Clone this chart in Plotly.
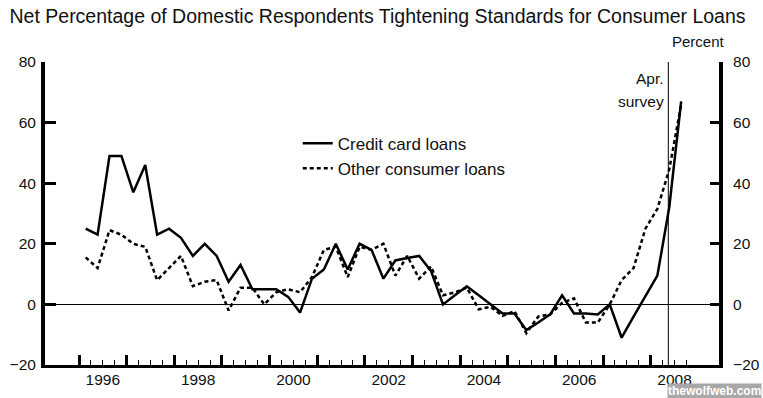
import plotly.graph_objects as go

# ---- data ----
credit_card = [25, 23, 49, 49, 37, 46, 23, 25, 22, 16,
               20, 16, 7.5, 13, 5, 5, 5, 2.5, -2.7, 8.5,
               11.5, 20, 11.5, 20, 18, 8.5, 14.5, 15.3, 16, 11,
               0, 3, 6, 3, 0, -3, -3, -8.5, -6, -3.3,
               3, -3, -3, -3.3, 0, -11, -4, 3, 9.5, 32, 67]
other_consumer = [15.5, 12, 24.5, 23, 20, 19, 8, 12, 16, 6,
                  7.5, 8, -2, 5.5, 5.5, 0, 4, 5, 4, 9,
                  18, 19, 9, 19, 18, 20, 9.5, 16, 8.5, 12.5,
                  3, 4, 5.5, -1.6, -0.8, -3.8, -2.2, -9.5, -4, -3.3,
                  0.5, 2, -6, -6, 0, 8, 12, 25, 31.5, 44.5, 66]
first_survey = 1996.14          # first survey date (decimal year)
survey_step = 0.25              # quarterly surveys
survey_line = 2008.37           # "Apr. survey" marker

year_ticks = list(range(1996, 2009))
quarter_ticks = [y + q for y in year_ticks for q in (0.25, 0.5, 0.75)]
label_years = [1996, 1998, 2000, 2002, 2004, 2006, 2008]
y_ticks = [-20, 0, 20, 40, 60, 80]

x_vals = [first_survey + survey_step * i for i in range(len(credit_card))]
x_range = [1995.286, 2009.434]
y_range = [-20, 80]

FONT = "Arial, Liberation Sans, sans-serif"
INK = "#111111"
TICKFONT = dict(size=15.5, family=FONT, color=INK)

fig = go.Figure()
fig.add_trace(go.Scatter(x=x_vals, y=credit_card, mode="lines",
                         name="Credit card loans",
                         line=dict(color="black", width=2.5)))
fig.add_trace(go.Scatter(x=x_vals, y=other_consumer, mode="lines",
                         name="Other consumer loans",
                         line=dict(color="black", width=2.5, dash="4px,3px")))

# invisible carriers so the overlay axes (labels, right axis, top caps) get drawn
for xa, ya in (("x2", "y"), ("x", "y2"), ("x", "y3"), ("x", "y4")):
    fig.add_trace(go.Scatter(x=x_vals, y=credit_card, mode="lines",
                             xaxis=xa, yaxis=ya, showlegend=False,
                             hoverinfo="skip", opacity=0,
                             line=dict(width=0, color="rgba(0,0,0,0)")))

fig.add_vline(x=survey_line, line=dict(color="black", width=1))

fig.update_layout(
    width=763, height=398,
    margin=dict(l=45, r=44, t=62, b=33, autoexpand=False),
    paper_bgcolor="white", plot_bgcolor="white",
    font=dict(family=FONT, color=INK, size=15),
    title=dict(text="Net Percentage of Domestic Respondents Tightening Standards for Consumer Loans",
               x=0.4948, xref="container", xanchor="center",
               y=1 - 16 / 398, yref="container", yanchor="middle",
               font=dict(size=19.5, family=FONT, color=INK)),
    showlegend=True,
    legend=dict(x=0.375, y=0.79, xref="paper", yref="paper",
                xanchor="left", yanchor="top",
                bgcolor="rgba(0,0,0,0)", borderwidth=0,
                font=dict(size=17, family=FONT, color=INK),
                tracegroupgap=0),
    xaxis=dict(range=x_range, tickmode="array", tickvals=year_ticks,
               ticks="inside", ticklen=10, tickwidth=3, tickcolor="black",
               showticklabels=False, showline=True, linewidth=3,
               linecolor="black", showgrid=False, zeroline=False,
               automargin=False,
               minor=dict(tickmode="array", tickvals=quarter_ticks,
                          ticks="inside", ticklen=5, tickwidth=1,
                          tickcolor="black", showgrid=False)),
    xaxis2=dict(range=x_range, overlaying="x", anchor="y", side="bottom",
                tickmode="array", tickvals=[y + 0.5 for y in label_years],
                ticktext=[str(y) for y in label_years],
                ticks="", showline=False, showgrid=False, zeroline=False,
                automargin=False, ticklabelstandoff=3, tickfont=TICKFONT),
    yaxis=dict(range=y_range, tickmode="array", tickvals=y_ticks,
               ticks="inside", ticklen=11, tickwidth=3, tickcolor="black",
               showline=True, linewidth=4, linecolor="black",
               showgrid=False, zeroline=True, zerolinewidth=1,
               zerolinecolor="black", automargin=False,
               ticklabelstandoff=2, tickfont=TICKFONT),
    yaxis2=dict(range=y_range, overlaying="y", anchor="x", side="right",
                tickmode="array", tickvals=y_ticks,
                ticks="inside", ticklen=9, tickwidth=3, tickcolor="black",
                showline=True, linewidth=4, linecolor="black",
                showgrid=False, zeroline=False, automargin=False,
                ticklabelstandoff=7, tickfont=TICKFONT),
    yaxis3=dict(range=y_range, overlaying="y", anchor="x", side="left",
                tickmode="array", tickvals=[y_ticks[-1]],
                ticks="inside", ticklen=20, tickwidth=3, tickcolor="black",
                showticklabels=False, showline=False, showgrid=False,
                zeroline=False, automargin=False),
    yaxis4=dict(range=y_range, overlaying="y", anchor="x", side="right",
                tickmode="array", tickvals=[y_ticks[-1]],
                ticks="inside", ticklen=18, tickwidth=3, tickcolor="black",
                showticklabels=False, showline=False, showgrid=False,
                zeroline=False, automargin=False),
)

fig.add_annotation(text="Percent", xref="paper", yref="paper",
                   x=1.0045, xshift=5, y=1.069, xanchor="right", yanchor="middle",
                   showarrow=False, font=dict(size=15, family=FONT, color=INK))
fig.add_annotation(text="Apr.", xref="x", yref="paper",
                   x=survey_line, xshift=-2, y=0.947,
                   xanchor="right", yanchor="middle", showarrow=False,
                   font=dict(size=15.5, family=FONT, color=INK))
fig.add_annotation(text="survey", xref="x", yref="paper",
                   x=survey_line, xshift=-2, y=0.871,
                   xanchor="right", yanchor="middle", showarrow=False,
                   font=dict(size=15.5, family=FONT, color=INK))
fig.add_annotation(text="<b>thewolfweb.com</b>", xref="paper", yref="paper",
                   x=1.064, y=-0.086, xanchor="right", yanchor="middle",
                   showarrow=False, bgcolor="#a8a8a8", borderpad=0,
                   font=dict(size=12, family=FONT, color="white"))

fig.write_html("out.html", config={"displayModeBar": False},
               post_script="document.body.style.margin='0';document.body.style.padding='0';")
